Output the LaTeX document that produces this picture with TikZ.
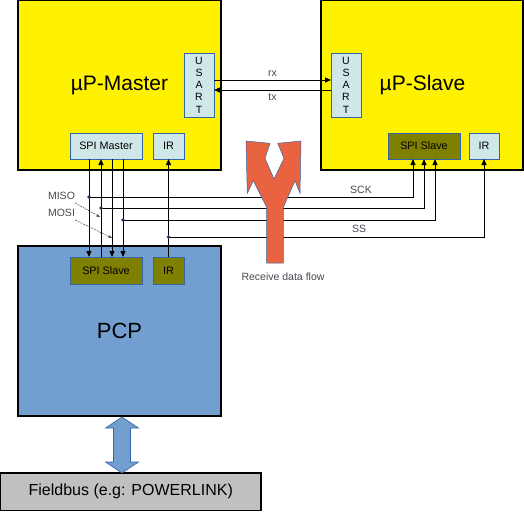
\documentclass[tikz,border=0pt]{standalone}
\usepackage{fontspec}
\setmainfont{Liberation Sans}
\usetikzlibrary{arrows.meta,calc}
\definecolor{cyanbox}{RGB}{208,231,231}
\definecolor{pcpblue}{RGB}{114,159,207}
\definecolor{olivebox}{RGB}{128,128,0}
\definecolor{edgeblue}{RGB}{52,101,164}
\definecolor{redarrow}{RGB}{234,99,64}
\definecolor{grayfb}{RGB}{192,192,192}
\definecolor{labelgray}{RGB}{70,70,80}
\definecolor{dotblue}{RGB}{30,55,100}
\tikzset{
  bigbox/.style={draw=black, line width=1.2pt, inner sep=0pt, outer sep=0pt},
  smallbox/.style={draw=edgeblue, line width=0.9pt, inner sep=0pt, outer sep=0pt, font=\fontsize{10.8}{12}\selectfont},
  cyanfill/.style={smallbox, fill=cyanbox},
  olivefill/.style={smallbox, fill=olivebox},
  sig/.style={draw=black, line width=1pt},
  sigarrow/.style={sig, -{Triangle[length=6pt,width=5pt]}},
  junction/.style={fill=dotblue, radius=1.8pt},
  smalllabel/.style={text=labelgray, font=\fontsize{10.5}{12}\selectfont, inner sep=0pt},
  hint/.style={draw=labelgray, line width=0.5pt, dash pattern=on 2pt off 1pt, -{Stealth[length=4pt,width=3pt]}}
}
\begin{document}
\begin{tikzpicture}[x=1pt,y=-1pt]
\useasboundingbox (0,0) rectangle (524,511);
% big boxes
\node[bigbox, fill=yellow, minimum width=203pt, minimum height=169.5pt, font=\fontsize{21}{24}\selectfont] (master) at (119.5,85.25) {µP-Master};
\node[bigbox, fill=yellow, minimum width=202pt, minimum height=169.5pt, font=\fontsize{21}{24}\selectfont] (slave) at (422,85.25) {\hspace*{1pt}µP-Slave};
\node[bigbox, fill=pcpblue, minimum width=203pt, minimum height=170pt, font=\fontsize{22}{24}\selectfont] (pcp) at (119.5,331) {PCP};
\node[bigbox, fill=grayfb, minimum width=260.5pt, minimum height=37.5pt, font=\fontsize{16}{18}\selectfont] (fb) at (130.75,491.75) {Fieldbus (e.g: POWERLINK)};
% small boxes
\node[cyanfill, minimum width=30pt, minimum height=64pt, align=center, font=\fontsize{10.5}{12.2}\selectfont] (musart) at (199,85) {U\\S\\A\\R\\T};
\node[cyanfill, minimum width=30pt, minimum height=64pt, align=center, font=\fontsize{10.5}{12.2}\selectfont] (susart) at (346,85) {U\\S\\A\\R\\T};
\node[cyanfill, minimum width=72pt, minimum height=26pt] (spim) at (106,146) {SPI Master};
\node[cyanfill, minimum width=31pt, minimum height=26pt] (mir) at (168.5,146) {IR};
\node[olivefill, minimum width=72pt, minimum height=26pt] (sspi) at (424,146) {SPI Slave};
\node[cyanfill, minimum width=30pt, minimum height=26pt] (sir) at (484,146) {IR};
\node[olivefill, minimum width=72pt, minimum height=27pt] (pspi) at (106,270.5) {SPI Slave};
\node[olivefill, minimum width=31pt, minimum height=27pt] (pir) at (168.5,270.5) {IR};
% USART links
\draw[sigarrow] ([yshift=5pt]musart.east) -- ([yshift=5pt]susart.west) node[midway, above=3pt, smalllabel] (rx) {rx};
\draw[sigarrow] ([yshift=-5pt]susart.west) -- ([yshift=-5pt]musart.east) node[midway, below=3pt, smalllabel] (tx) {tx};
% junction coordinates
\coordinate (j1) at (89,197);
\coordinate (j2) at (101,208);
\coordinate (j3) at (112,229);
\coordinate (j4) at (123,220);
\coordinate (j5) at (168.5,237);
% vertical SPI lines
\draw[sigarrow] (spim.south -| j1) -- (pspi.north -| j1);
\draw[sigarrow] (pspi.north -| j2) -- (spim.south -| j2);
\draw[sigarrow] (spim.south -| j3) -- (pspi.north -| j3);
\draw[sigarrow] (spim.south -| j4) -- (pspi.north -| j4);
\draw[sigarrow] (pir.north) -- (mir.south);
% branches to slave
\draw[sigarrow] (j1) -| ($(sspi.south)+(-11,0)$);
\draw[sigarrow] (j2) -| (sspi.south);
\draw[sigarrow] (j4) -| ($(sspi.south)+(11,0)$);
\draw[sigarrow] (j5) -| (sir.south);
\foreach \j in {j1,j2,j4,j5} \fill[junction] (\j) circle;
% signal labels
\node[smalllabel] (sck) at (361,190) {SCK};
\node[smalllabel] (ss) at (359,229) {SS};
\node[smalllabel] (miso) at (61.5,196) {MISO};
\node[smalllabel] (mosi) at (61.5,213) {MOSI};
\coordinate (misot) at (100,217);
\coordinate (mosit) at (112,238);
\draw[hint] ($(miso.south east)+(0,3)$) -- (misot);
\draw[hint] ($(mosi.south east)+(0,3)$) -- (mosit);
% receive data flow arrow
\draw[fill=redarrow, draw=edgeblue, line width=0.5pt, line join=miter]
  (246,141) -- (270,143.3) -- (265,158.3) -- (274,179) -- (284,158.3) -- (277.7,143.3)
  -- (301,141) -- (300,193.3) -- (295,180.7) -- (283.3,207.3) -- (283.3,263)
  -- (266.7,263) -- (266.7,207.3) -- (253.3,180.7) -- (247.3,193.3) -- cycle;
\node[smalllabel] (rdf) at (283,277) {Receive data flow};
% double arrow PCP <-> fieldbus
\draw[fill=pcpblue, draw=edgeblue, line width=0.6pt]
  (122,417) -- (138.5,428) -- (130.5,428) -- (130.5,462) -- (138.5,462) -- (122,473)
  -- (105.5,462) -- (113.5,462) -- (113.5,428) -- (105.5,428) -- cycle;
\end{tikzpicture}
\end{document}
